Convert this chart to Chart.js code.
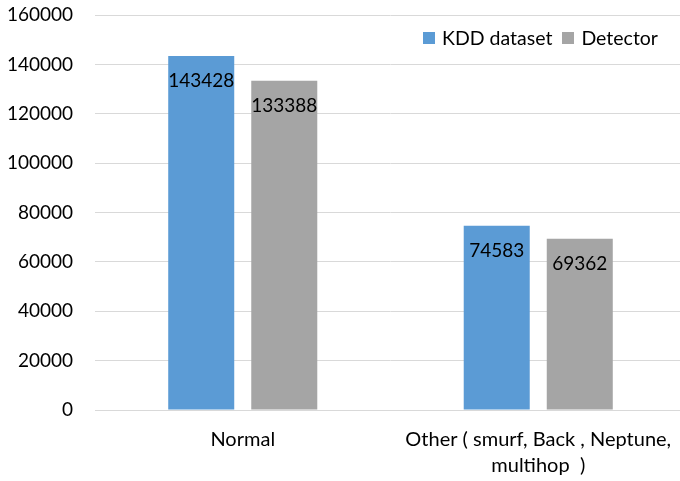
<!DOCTYPE html>
<html>
<head>
<meta charset="utf-8">
<script src="https://cdn.jsdelivr.net/npm/chart.js@4.4.0/dist/chart.umd.min.js"></script>
<style>
  html, body { margin: 0; padding: 0; background: #fff; overflow: hidden; }
  #wrap { position: relative; width: 680px; height: 481px; overflow: hidden; }
  #legend { position: absolute; left: 423px; top: 26px; display: flex; align-items: center;
            font-family: Lato, sans-serif; font-size: 19.5px; color: #000; white-space: nowrap; }
  #legend .box { width: 12px; height: 12px; display: inline-block; margin-right: 7px; }
  #legend .item { display: flex; align-items: center; margin-right: 10px; }
</style>
</head>
<body>
<div id="wrap">
  <canvas id="myChart" width="686" height="481"></canvas>
  <div id="legend"></div>
</div>
<script>
// Chart data
const categories = ['Normal', ['Other ( smurf, Back , Neptune,', 'multihop  )']];
const kddValues = [143428, 74583];
const detectorValues = [133388, 69362];
const seriesNames = ['KDD dataset', 'Detector'];
const seriesColors = ['#5b9bd5', '#a5a5a5'];

const FONT = 'Lato, sans-serif';

// Draw value labels just below the top of each bar
const barLabels = {
    id: 'barLabels',
    afterDatasetsDraw(chart) {
        const ctx = chart.ctx;
        ctx.save();
        ctx.font = '19px ' + FONT;
        ctx.fillStyle = '#000';
        ctx.textAlign = 'center';
        ctx.textBaseline = 'middle';
        chart.data.datasets.forEach((ds, i) => {
            chart.getDatasetMeta(i).data.forEach((bar, j) => {
                ctx.fillText(ds.data[j], bar.x, bar.y + 25);
            });
        });
        ctx.restore();
    }
};

const ctx = document.getElementById('myChart').getContext('2d');
const myChart = new Chart(ctx, {
    type: 'bar',
    data: {
        labels: categories,
        datasets: [{
            label: seriesNames[0],
            data: kddValues,
            backgroundColor: seriesColors[0]
        }, {
            label: seriesNames[1],
            data: detectorValues,
            backgroundColor: seriesColors[1]
        }]
    },
    options: {
        responsive: false,
        animation: false,
        categoryPercentage: 0.562,
        barPercentage: 0.795,
        layout: { padding: { top: 15, right: 0, bottom: 0, left: 0 } },
        plugins: {
            legend: { display: false },
            tooltip: { enabled: false }
        },
        scales: {
            x: {
                grid: { display: false, drawTicks: false },
                border: { color: '#d9d9d9', width: 1 },
                ticks: {
                    color: '#000',
                    padding: 17,
                    maxRotation: 0,
                    font: { family: FONT, size: 20, lineHeight: 1.3 }
                },
                afterFit(scale) {
                    scale.height = 71;
                    scale.paddingLeft = 0;
                    scale.paddingRight = 0;
                }
            },
            y: {
                min: 0,
                max: 160000,
                ticks: {
                    stepSize: 20000,
                    color: '#000',
                    padding: 22,
                    font: { family: FONT, size: 19 },
                    callback: (value) => String(value)
                },
                grid: { color: '#d9d9d9', lineWidth: 1, drawTicks: false },
                border: { display: false },
                afterFit(scale) {
                    scale.width = 95;
                    scale.paddingTop = 0;
                    scale.paddingBottom = 0;
                }
            }
        }
    },
    plugins: [barLabels]
});

// HTML legend built from the datasets
const legend = document.getElementById('legend');
myChart.data.datasets.forEach(ds => {
    legend.innerHTML +=
        `<span class="item"><span class="box" style="background:${ds.backgroundColor}"></span>${ds.label}</span>`;
});
</script>
</body>
</html>
